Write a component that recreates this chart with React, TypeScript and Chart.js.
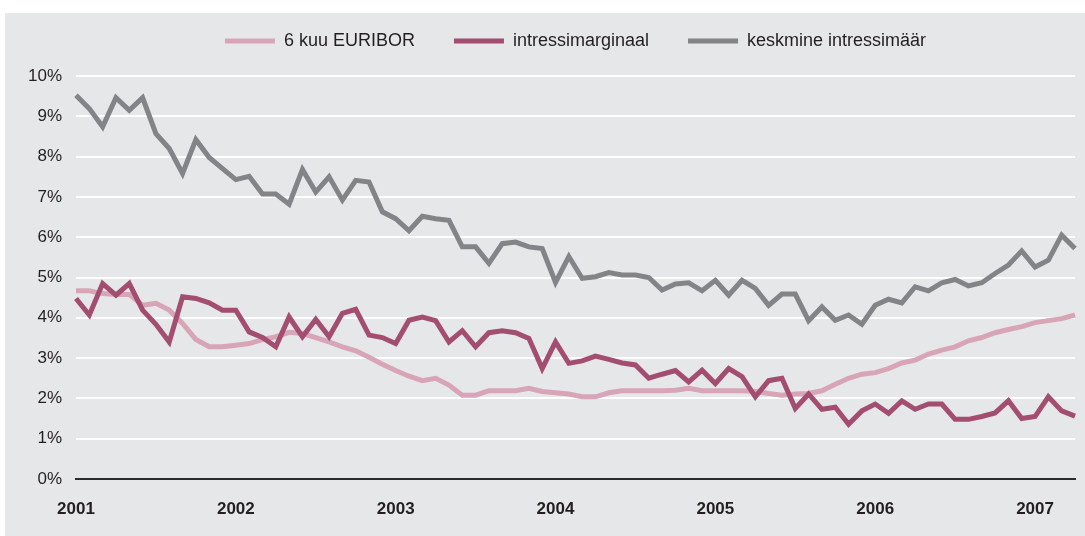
import React, { useEffect, useRef } from "react";
import { Chart, registerables } from "chart.js";

Chart.register(...registerables);

const years = ["2001", "2002", "2003", "2004", "2005", "2006", "2007"];
const months = ["01", "02", "03", "04", "05", "06", "07", "08", "09", "10", "11", "12"];
const monthCount = 76;
const categories: string[] = [];
for (let i = 0; i < monthCount; i++) {
  categories.push(years[Math.floor(i / 12)] + "-" + months[i % 12]);
}

const seriesNames = ["6 kuu EURIBOR", "intressimarginaal", "keskmine intressimäär"];

const euribor = [
  4.67, 4.67, 4.60, 4.58, 4.58, 4.31, 4.36, 4.19, 3.86, 3.46, 3.28, 3.28,
  3.32, 3.36, 3.46, 3.53, 3.64, 3.61, 3.51, 3.40, 3.28, 3.18, 3.02, 2.85,
  2.69, 2.55, 2.44, 2.50, 2.33, 2.08, 2.08, 2.19, 2.19, 2.19, 2.25, 2.17,
  2.14, 2.11, 2.04, 2.04, 2.14, 2.19, 2.19, 2.19, 2.19, 2.20, 2.25, 2.19,
  2.19, 2.19, 2.19, 2.17, 2.12, 2.08, 2.11, 2.12, 2.19, 2.35, 2.50, 2.60,
  2.64, 2.74, 2.88, 2.95, 3.10, 3.20, 3.28, 3.43, 3.51, 3.63, 3.71, 3.78,
  3.88, 3.93, 3.98, 4.07,
];

const marginaal = [
  4.48, 4.07, 4.85, 4.56, 4.85, 4.19, 3.84, 3.40, 4.52, 4.48, 4.37, 4.19,
  4.19, 3.65, 3.51, 3.28, 4.02, 3.53, 3.96, 3.53, 4.11, 4.21, 3.57, 3.51,
  3.36, 3.94, 4.02, 3.93, 3.40, 3.68, 3.28, 3.63, 3.68, 3.63, 3.49, 2.74,
  3.40, 2.87, 2.93, 3.05, 2.97, 2.88, 2.83, 2.50, 2.60, 2.69, 2.41, 2.70,
  2.37, 2.74, 2.54, 2.04, 2.44, 2.50, 1.75, 2.11, 1.73, 1.78, 1.36, 1.69,
  1.86, 1.63, 1.94, 1.73, 1.86, 1.86, 1.48, 1.48, 1.55, 1.64, 1.94, 1.50,
  1.55, 2.04, 1.69, 1.56,
];

const keskmine = [
  9.52, 9.19, 8.74, 9.46, 9.15, 9.46, 8.57, 8.20, 7.58, 8.42, 7.98, 7.70,
  7.43, 7.51, 7.07, 7.07, 6.82, 7.68, 7.12, 7.50, 6.92, 7.41, 7.37, 6.63,
  6.46, 6.16, 6.52, 6.46, 6.42, 5.76, 5.76, 5.35, 5.84, 5.88, 5.76, 5.72,
  4.88, 5.52, 4.98, 5.02, 5.12, 5.06, 5.06, 5.00, 4.69, 4.84, 4.87, 4.67,
  4.93, 4.56, 4.93, 4.73, 4.31, 4.59, 4.59, 3.93, 4.27, 3.94, 4.07, 3.84,
  4.31, 4.46, 4.37, 4.77, 4.67, 4.87, 4.95, 4.79, 4.87, 5.10, 5.31, 5.66,
  5.26, 5.43, 6.05, 5.72,
];

const yTicks = [0, 1, 2, 3, 4, 5, 6, 7, 8, 9, 10];

const colors = ["#d8a5b7", "#a34d70", "#838487"];
const FONT = "'Liberation Sans', Arial, Helvetica, sans-serif";

export default function App() {
  const canvasRef = useRef<HTMLCanvasElement | null>(null);

  useEffect(() => {
    document.body.style.margin = "0";
    const canvas = canvasRef.current;
    if (!canvas) return;

    const legendHeight: any = {
      id: "legendHeight",
      beforeInit(chart: any) {
        const lg = chart.legend;
        if (!lg) return;
        const orig = lg.fit;
        lg.fit = function () {
          orig.call(this);
          this.height = 83;
        };
      },
    };

    const chart = new Chart(canvas, {
      type: "line",
      data: {
        labels: categories,
        datasets: [
          { label: seriesNames[0], data: euribor, borderColor: colors[0], backgroundColor: colors[0], order: 3 },
          { label: seriesNames[1], data: marginaal, borderColor: colors[1], backgroundColor: colors[1], order: 2 },
          { label: seriesNames[2], data: keskmine, borderColor: colors[2], backgroundColor: colors[2], order: 1 },
        ].map((d) => ({
          ...d,
          borderWidth: 5,
          pointRadius: 0,
          pointHoverRadius: 0,
          tension: 0,
          borderJoinStyle: "miter" as const,
          borderCapStyle: "butt" as const,
          fill: false,
        })),
      },
      plugins: [legendHeight],
      options: {
        responsive: false,
        animation: false,
        events: [],
        layout: { padding: { top: -20, left: 0, right: 0, bottom: 0 } },
        plugins: {
          tooltip: { enabled: false },
          legend: {
            display: true,
            position: "top",
            fullSize: false,
            align: "center",
            labels: {
              boxWidth: 50,
              boxHeight: 5,
              padding: 39,
              color: "#231f20",
              font: { family: FONT, size: 18 },
              generateLabels: (ch: any) =>
                Chart.defaults.plugins.legend.labels
                  .generateLabels(ch)
                  .map((l: any) => ({ ...l, strokeStyle: "rgba(0,0,0,0)", lineWidth: 1 }))
                  .sort((a: any, b: any) => a.datasetIndex - b.datasetIndex),
            },
          },
        },
        scales: {
          x: {
            type: "category",
            offset: false,
            grid: { display: false, drawTicks: false },
            border: { display: true, color: "#2b2b2b", width: 2 },
            afterFit: (scale: any) => {
              scale.height = 57;
              scale.paddingRight = 10;
            },
            ticks: {
              autoSkip: false,
              maxRotation: 0,
              minRotation: 0,
              padding: 20,
              color: "#231f20",
              font: { family: FONT, size: 17, weight: "bold" },
              callback: (_v: any, idx: number) => (idx % 12 === 0 ? years[idx / 12] : ""),
            },
          },
          y: {
            min: yTicks[0],
            max: yTicks[yTicks.length - 1],
            afterFit: (scale: any) => {
              scale.width = 71;
            },
            afterBuildTicks: (scale: any) => {
              scale.ticks = yTicks.map((v) => ({ value: v }));
            },
            grid: {
              drawTicks: false,
              lineWidth: 2,
              color: (ctx: any) => (ctx.tick && ctx.tick.value === 0 ? "rgba(0,0,0,0)" : "#ffffff"),
            },
            border: { display: false },
            ticks: {
              padding: 14,
              color: "#231f20",
              font: { family: FONT, size: 17 },
              callback: (v: any) => v + "%",
            },
          },
        },
      },
    });

    return () => {
      chart.destroy();
    };
  }, []);

  return (
    <div style={{ position: "relative", width: 1085, height: 536, background: "#ffffff", overflow: "hidden" }}>
      <div style={{ position: "absolute", left: 5, top: 13, width: 1080, height: 523, background: "#e6e7e9" }}>
        <canvas ref={canvasRef} width={1080} height={523} style={{ display: "block", width: 1080, height: 523 }} />
      </div>
    </div>
  );
}
